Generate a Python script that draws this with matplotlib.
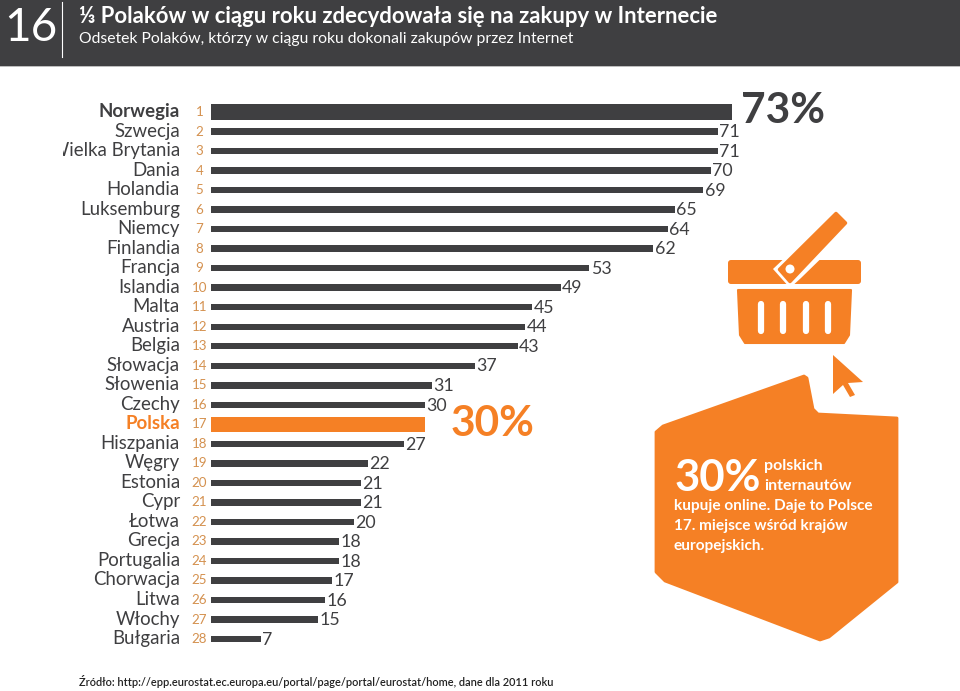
import matplotlib
matplotlib.use('Agg')
import matplotlib.pyplot as plt
from matplotlib.patches import Polygon, FancyBboxPatch, Rectangle, Circle
from matplotlib.transforms import Bbox

plt.rcParams['font.family'] = ['Lato', 'DejaVu Sans']

# Data
countries = ['Norwegia', 'Szwecja', 'Wielka Brytania', 'Dania', 'Holandia', 'Luksemburg',
             'Niemcy', 'Finlandia', 'Francja', 'Islandia', 'Malta', 'Austria', 'Belgia',
             'Słowacja', 'Słowenia', 'Czechy', 'Polska', 'Hiszpania', 'Węgry', 'Estonia',
             'Cypr', 'Łotwa', 'Grecja', 'Portugalia', 'Chorwacja', 'Litwa', 'Włochy', 'Bułgaria']
values = [73, 71, 71, 70, 69, 65, 64, 62, 53, 49, 45, 44, 43, 37,
          31, 30, 30, 27, 22, 21, 21, 20, 18, 18, 17, 16, 15, 7]
ranks = list(range(1, 29))

dark = '#3f3f41'
orange = '#f58025'
W, H = 960, 691

fig = plt.figure(figsize=(W / 100, H / 100), dpi=100)

# overlay in pixel coordinates for header and drawings
bg = fig.add_axes([0, 0, 1, 1])
bg.set_xlim(0, W)
bg.set_ylim(H, 0)
bg.axis('off')

# Header
bg.add_patch(Rectangle((0, 0), W, 66, color=dark, lw=0))
bg.add_patch(Rectangle((0, 66), W, 1.2, color='#bdbdbd', lw=0))
bg.plot([62, 62], [2, 57], color='white', lw=0.8)
bg.text(31, 28, '16', color='white', fontsize=33, ha='center', va='center')
bg.text(79, 16.5, '⅓ Polaków w ciągu roku zdecydowała się na zakupy w Internecie',
        color='white', fontsize=15.9, fontweight='bold', va='center')
bg.text(79, 38.5, 'Odsetek Polaków, którzy w ciągu roku dokonali zakupów przez Internet',
        color='white', fontsize=11.3, va='center')

# Bars
ax = fig.add_axes([211 / W, 1 - 650 / H, 521 / W, 550 / H])
ax.patch.set_alpha(0)
ax.set_xlim(0, 73)
ax.set_ylim(28.56, 0.385)
ax.axis('off')

for rank, name, val in zip(ranks, countries, values):
    thick = name in ('Norwegia', 'Polska')
    col = orange if name == 'Polska' else dark
    ax.barh(rank, val, height=0.78 if thick else 0.33, color=col, linewidth=0)

    # country names and ranks
    y = 112 + (rank - 1) * 19.52
    weight = 'bold' if thick else 'normal'
    t = bg.text(180, y - 0.5, name, ha='right', va='center', fontsize=13.4, fontweight=weight,
                color=orange if name == 'Polska' else dark)
    t.set_clip_box(Bbox([[63, 0], [W, H]]))
    t.set_clip_on(True)
    bg.text(199.5, y, str(rank), ha='center', va='center', fontsize=9.6, color='#d4914f')
    if not thick:
        ax.annotate(str(val), (val, rank), xytext=(1, -0.5), textcoords='offset points',
                    ha='left', va='center', fontsize=12.8, color=dark)

bg.text(741, 111, '73%', fontsize=30.5, fontweight='bold', color=dark, va='center')
bg.text(451, 424, '30%', fontsize=30.5, fontweight='bold', color=orange, va='center')

# Basket
bg.add_patch(FancyBboxPatch((728, 260), 133, 24, boxstyle='round,pad=0,rounding_size=3',
                            color=orange, lw=0))
bg.add_patch(Polygon([(738, 290), (851, 290), (849, 335), (844, 343), (745, 343), (740, 335)],
                     color=orange, ec=orange, lw=1.5, joinstyle='round'))
for bx in (761, 783, 806, 828):
    bg.plot([bx, bx], [304, 331], color='white', lw=4.5, solid_capstyle='round')
bg.add_patch(Polygon([(773, 269), (790, 288), (801, 278), (840, 240), (830, 215)],
                     color='white', lw=0))
bg.add_patch(Polygon([(779.5, 269.5), (836, 213.5), (845.5, 223), (790, 281.5)],
                     fc=orange, ec=orange, lw=2.5, joinstyle='round'))
bg.add_patch(Circle((790, 269), 4.5, color='white', lw=0))

# Cursor
bg.add_patch(Polygon([(833, 355), (863, 382), (848, 383), (855, 395), (850, 397), (843, 385), (833, 394)],
                     color=orange, lw=0))

# Callout
bg.add_patch(Polygon([(656, 432), (663, 426), (804, 376), (807, 378), (813, 409), (818, 414),
                      (897, 418), (897, 582), (829, 637), (820, 640), (665, 581), (656, 572)],
                     fc=orange, ec=orange, lw=2, joinstyle='round'))
bg.text(675, 478, '30%', fontsize=31.5, fontweight='bold', color='white', va='center')
bg.text(764, 466, 'polskich', fontsize=11.5, fontweight='bold', color='white', va='center')
bg.text(764, 486, 'internautów', fontsize=11.5, fontweight='bold', color='white', va='center')
bg.text(674, 506, 'kupuje online. Daje to Polsce', fontsize=11.1, fontweight='bold', color='white', va='center')
bg.text(674, 526, '17. miejsce wśród krajów', fontsize=11.1, fontweight='bold', color='white', va='center')
bg.text(674, 546, 'europejskich.', fontsize=11.1, fontweight='bold', color='white', va='center')

# Source
bg.text(79, 681, 'Źródło: http://epp.eurostat.ec.europa.eu/portal/page/portal/eurostat/home, dane dla 2011 roku',
        fontsize=7.95, fontweight='semibold', color='#222222', va='center')

fig.savefig('out.png', dpi=100)
